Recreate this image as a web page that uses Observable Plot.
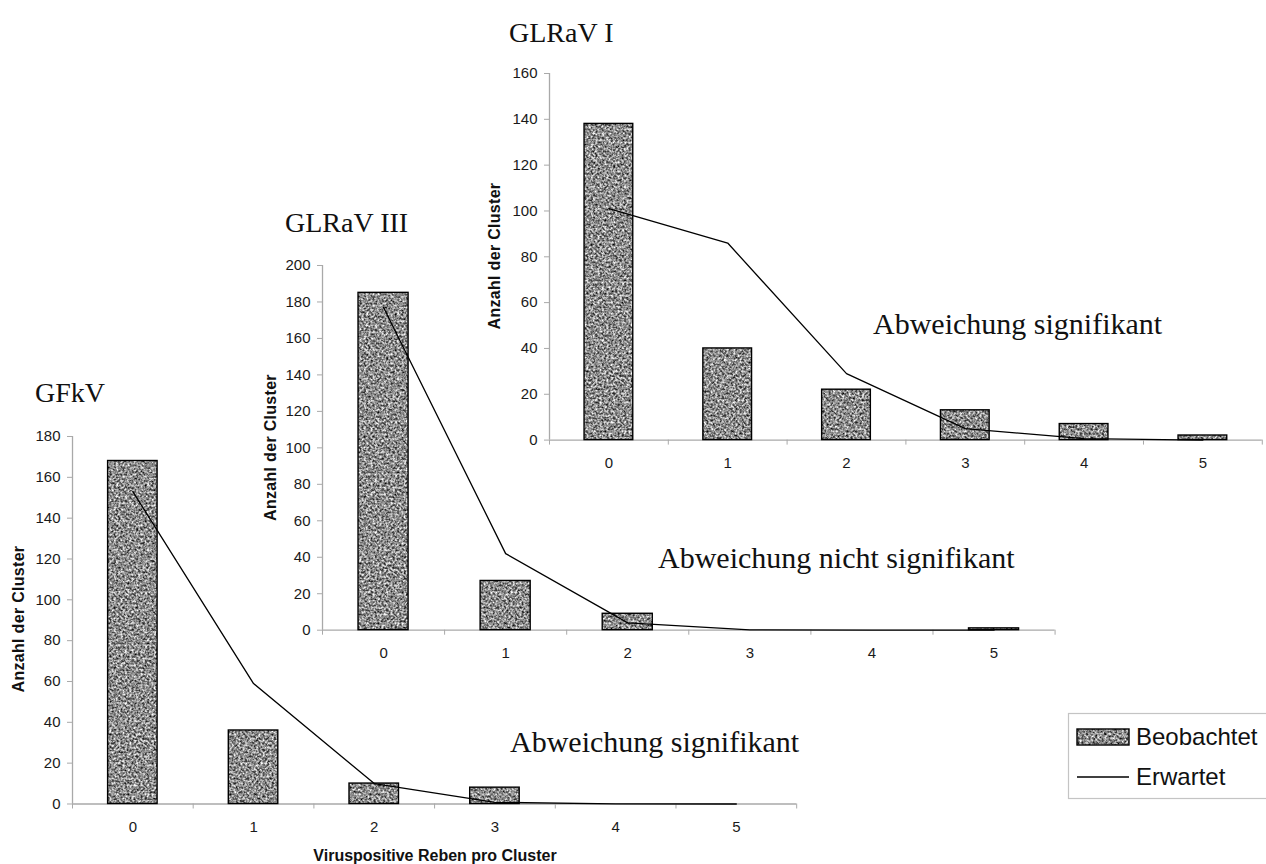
<!DOCTYPE html>
<html>
<head>
<meta charset="utf-8">
<script src="https://cdn.jsdelivr.net/npm/d3@7"></script>
<script src="https://cdn.jsdelivr.net/npm/@observablehq/plot@0.6"></script>
<style>
html, body { margin: 0; padding: 0; background: #fff; }
#stage { position: relative; width: 1266px; height: 864px; overflow: hidden; background: #fff; }
#stage svg { position: absolute; background: transparent !important; overflow: visible; }
</style>
</head>
<body>
<div id="stage">
<svg id="defs" width="0" height="0" style="left:0;top:0">
  <defs>
    <filter id="noise" x="0" y="0" width="1" height="1" color-interpolation-filters="sRGB">
      <feTurbulence type="fractalNoise" baseFrequency="0.45" numOctaves="2" seed="7"/>
      <feColorMatrix type="matrix" values="1.5 0 0 0 -0.2  1.5 0 0 0 -0.2  1.5 0 0 0 -0.2  0 0 0 0 1"/>
    </filter>
    <pattern id="speckle" patternUnits="userSpaceOnUse" width="400" height="400">
      <rect width="400" height="400" fill="#888" filter="url(#noise)"/>
    </pattern>
  </defs>
</svg>
</div>
<script>
// ---- data ----
const counts = [0, 1, 2, 3, 4, 5];

const glrav1Observed = [138, 40, 22, 13, 7, 2];
const glrav1Expected = [101, 86, 29, 5, 0.6, 0];

const glrav3Observed = [185, 27, 9, 0, 0, 1];
const glrav3Expected = [177, 42, 4, 0.2, 0, 0];

const gfkvObserved = [168, 36, 10, 8, 0, 0];
const gfkvExpected = [153, 59, 10, 0.8, 0.1, 0];

const glrav1YTicks = [0, 20, 40, 60, 80, 100, 120, 140, 160];
const glrav3YTicks = [0, 20, 40, 60, 80, 100, 120, 140, 160, 180, 200];
const gfkvYTicks = [0, 20, 40, 60, 80, 100, 120, 140, 160, 180];

const titles = ["GLRaV I", "GLRaV III", "GFkV"];
const notes = ["Abweichung signifikant", "Abweichung nicht signifikant", "Abweichung signifikant"];
const yLabel = "Anzahl der Cluster";
const xLabel = "Viruspositive Reben pro Cluster";
const legendLabels = ["Beobachtet", "Erwartet"];

// ---- drawing ----
const stage = document.getElementById("stage");
const AXIS = "#a9a9a9";
const INK = "#1a1a1a";

function chart({observed, expected, yTicks, left, top, plotW, plotH}) {
  const mL = 60, mR = 12, mT = 20, mB = 44;
  const rows = counts.map((k, i) => ({k, observed: observed[i], expected: expected[i]}));
  const boundaries = counts.map(k => k - 0.5).concat([counts[counts.length - 1] + 0.5]);
  const svg = Plot.plot({
    width: mL + plotW + mR,
    height: mT + plotH + mB,
    marginLeft: mL, marginRight: mR, marginTop: mT, marginBottom: mB,
    style: {background: "transparent", fontFamily: "'Liberation Sans', Arial, sans-serif", fontSize: "15px", color: INK},
    x: {domain: [boundaries[0], boundaries[boundaries.length - 1]]},
    y: {domain: [0, yTicks[yTicks.length - 1]]},
    marks: [
      Plot.ruleY([0], {stroke: AXIS, strokeWidth: 1.3}),
      Plot.ruleX([boundaries[0]], {stroke: AXIS, strokeWidth: 1.3}),
      Plot.axisY({ticks: yTicks, tickSize: 5, tickPadding: 7, stroke: AXIS, fill: INK, fontSize: 15, label: null}),
      Plot.axisX({ticks: boundaries, tickSize: 5, tickFormat: () => "", stroke: AXIS, label: null}),
      Plot.axisX({ticks: counts, tickSize: 0, tickPadding: 17, fill: INK, fontSize: 15, label: null, tickFormat: d => String(d)}),
      Plot.rectY(rows, {filter: d => d.observed > 0, x1: d => d.k - 0.205, x2: d => d.k + 0.205, y: "observed",
        fill: "url(#speckle)", stroke: "black", strokeWidth: 1.4}),
      Plot.lineY(rows, {x: "k", y: "expected", stroke: "black", strokeWidth: 1.3})
    ]
  });
  svg.style.left = (left - mL) + "px";
  svg.style.top = (top - mT) + "px";
  stage.appendChild(svg);
}

chart({observed: gfkvObserved, expected: gfkvExpected, yTicks: gfkvYTicks, left: 72, top: 435.5, plotW: 724.2, plotH: 367.5});
chart({observed: glrav3Observed, expected: glrav3Expected, yTicks: glrav3YTicks, left: 322.4, top: 265.3, plotW: 732.6, plotH: 364.7});
chart({observed: glrav1Observed, expected: glrav1Expected, yTicks: glrav1YTicks, left: 549, top: 72.7, plotW: 712.8, plotH: 366.6});

// ---- overlay texts & legend ----
const ov = d3.select(stage).append("svg")
  .attr("width", 1266).attr("height", 864)
  .style("left", "0px").style("top", "0px");

const serif = "'Liberation Serif', 'Times New Roman', serif";
const sans = "'Liberation Sans', Arial, sans-serif";

const titlePos = [[509, 42], [285, 232], [35, 402]];
titles.forEach((t, i) => ov.append("text").attr("x", titlePos[i][0]).attr("y", titlePos[i][1])
  .attr("font-family", serif).attr("font-size", 28).attr("fill", "#111").text(t));

const notePos = [[873, 334], [658, 568], [510, 752]];
notes.forEach((t, i) => ov.append("text").attr("x", notePos[i][0]).attr("y", notePos[i][1])
  .attr("font-family", serif).attr("font-size", 30).attr("fill", "#111")
  .style("font-variant-ligatures", "none").text(t));

const yLabPos = [[494, 256], [270, 447.5], [18, 619]];
yLabPos.forEach(([x, y]) => ov.append("text")
  .attr("transform", `translate(${x},${y}) rotate(-90)`)
  .attr("text-anchor", "middle").attr("dominant-baseline", "central")
  .attr("font-family", sans).attr("font-weight", "bold").attr("font-size", 16)
  .attr("letter-spacing", 0.3).attr("fill", "#111").text(yLabel));

ov.append("text").attr("x", 435).attr("y", 861).attr("text-anchor", "middle")
  .attr("font-family", sans).attr("font-weight", "bold").attr("font-size", 16)
  .attr("fill", "#111").text(xLabel);

// legend
const lg = ov.append("g");
lg.append("rect").attr("x", 1068.5).attr("y", 713.5).attr("width", 220).attr("height", 85)
  .attr("fill", "white").attr("stroke", "#c4c4c4").attr("stroke-width", 1.2);
lg.append("rect").attr("x", 1077).attr("y", 729).attr("width", 52).attr("height", 16)
  .attr("fill", "url(#speckle)").attr("stroke", "black").attr("stroke-width", 1.4);
lg.append("line").attr("x1", 1077).attr("x2", 1129).attr("y1", 777).attr("y2", 777)
  .attr("stroke", "black").attr("stroke-width", 1.4);
legendLabels.forEach((t, i) => lg.append("text").attr("x", 1136).attr("y", i === 0 ? 745 : 785)
  .attr("font-family", sans).attr("font-size", 24).attr("fill", "#111").text(t));
</script>
</body>
</html>
